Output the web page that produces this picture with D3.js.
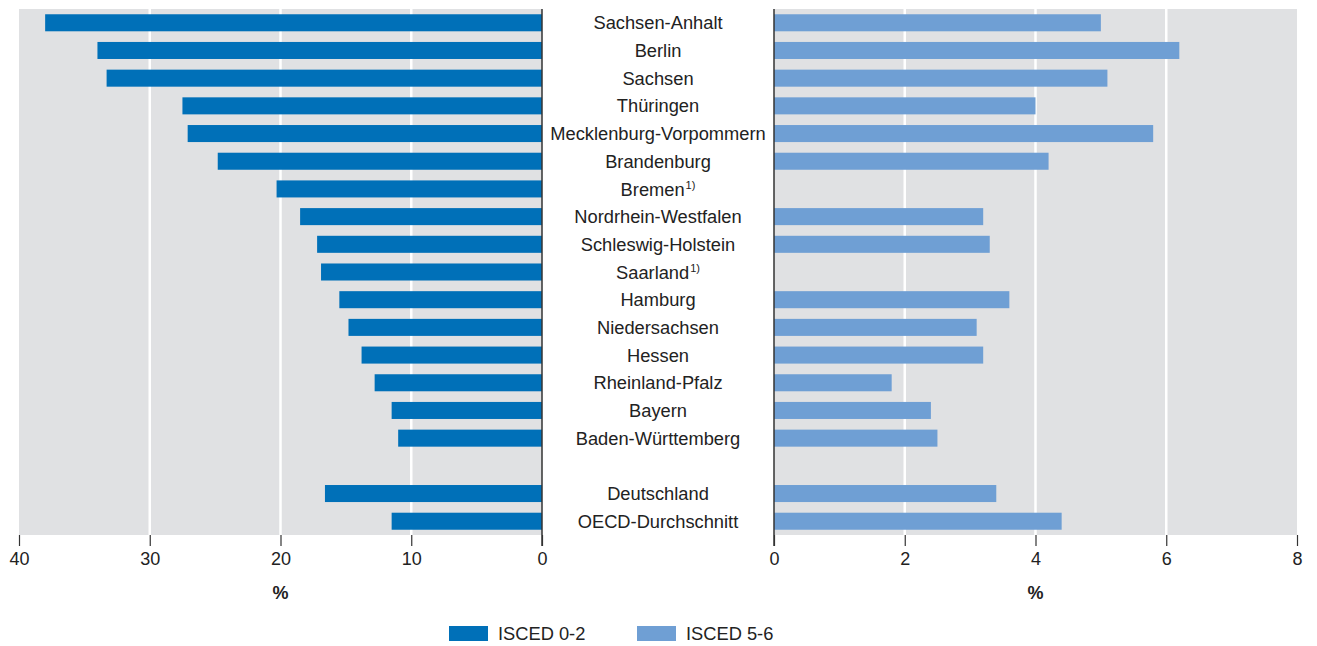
<!DOCTYPE html>
<html><head><meta charset="utf-8">
<script src="https://cdn.jsdelivr.net/npm/d3@7"></script>
<style>
body{margin:0;background:#fff;}
text{font-family:"Liberation Sans",Arial,sans-serif;fill:#222;}
</style></head>
<body><svg id="c" width="1317" height="646"></svg>
<script>
const categories = ["Sachsen-Anhalt","Berlin","Sachsen","Thüringen","Mecklenburg-Vorpommern","Brandenburg","Bremen","Nordrhein-Westfalen","Schleswig-Holstein","Saarland","Hamburg","Niedersachsen","Hessen","Rheinland-Pfalz","Bayern","Baden-Württemberg","","Deutschland","OECD-Durchschnitt"];
const footnotes = [false,false,false,false,false,false,true,false,false,true,false,false,false,false,false,false,false,false,false];
const isced02 = [38.0,34.0,33.3,27.5,27.1,24.8,20.3,18.5,17.2,16.9,15.5,14.8,13.8,12.8,11.5,11.0,null,16.6,11.5];
const isced56 = [5.0,6.2,5.1,4.0,5.8,4.2,null,3.2,3.3,null,3.6,3.1,3.2,1.8,2.4,2.5,null,3.4,4.4];
const leftTicks = [40,30,20,10,0];
const rightTicks = [0,2,4,6,8];
const seriesNames = ["ISCED 0-2","ISCED 5-6"];
const colors = ["#0070b8","#6f9fd4"];

const svg = d3.select("#c");
const plotTop = 9, plotBottom = 535;
const y = d3.scaleBand().domain(d3.range(categories.length)).range([plotTop,plotBottom]).paddingInner(0.385).paddingOuter(0.19);
const xL = d3.scaleLinear().domain([40,0]).range([19,542]);
const xR = d3.scaleLinear().domain([0,8]).range([774,1297]);

function panel(x, ticks, data, color){
  const [x0,x1] = x.range().slice().sort((a,b)=>a-b);
  svg.append("rect").attr("x",x0).attr("y",plotTop).attr("width",x1-x0).attr("height",plotBottom-plotTop).attr("fill","#e0e1e3");
  svg.append("g").selectAll("line").data(ticks.filter(t=>x(t)>x0+1 && x(t)<x1-1)).join("line")
    .attr("x1",d=>x(d)).attr("x2",d=>x(d)).attr("y1",plotTop).attr("y2",plotBottom)
    .attr("stroke","#fff").attr("stroke-width",2.5);
  svg.append("g").selectAll("rect").data(data.map((v,i)=>({v,i})).filter(d=>d.v!=null)).join("rect")
    .attr("x",d=>Math.min(x(0),x(d.v))).attr("width",d=>Math.abs(x(d.v)-x(0)))
    .attr("y",d=>y(d.i)).attr("height",y.bandwidth()).attr("fill",color);
  const ax = svg.append("g").attr("transform",`translate(0,${plotBottom})`)
    .call(d3.axisBottom(x).tickValues(ticks).tickSize(11).tickPadding(6).tickFormat(d3.format("d")));
  ax.select(".domain").remove();
  ax.selectAll(".tick line").attr("stroke","#333").attr("stroke-width",1.2);
  ax.selectAll(".tick text").attr("font-size",18).attr("fill","#222").attr("font-family","Liberation Sans, Arial, sans-serif");
  svg.append("line").attr("x1",x(0)).attr("x2",x(0)).attr("y1",plotTop).attr("y2",plotBottom+11).attr("stroke","#333").attr("stroke-width",1.5);
  svg.append("text").attr("x",(x0+x1)/2).attr("y",599).attr("text-anchor","middle").attr("font-size",18).attr("font-weight","bold").text("%");
}
panel(xL, leftTicks, isced02, colors[0]);
panel(xR, rightTicks, isced56, colors[1]);

const lab = svg.append("g").selectAll("text").data(categories.map((c,i)=>({c,i}))).join("text")
  .attr("x",658).attr("y",d=>y(d.i)+y.bandwidth()/2).attr("dy","0.36em").attr("text-anchor","middle").attr("font-size",18.3);
lab.append("tspan").text(d=>d.c);
lab.filter(d=>footnotes[d.i]).append("tspan").attr("font-size",11).attr("dy","-0.6em").attr("dx",1).text("1)");

const leg = svg.append("g").selectAll("g").data(seriesNames).join("g")
  .attr("transform",(d,i)=>`translate(${[449,637][i]},626)`);
leg.append("rect").attr("width",39).attr("height",15).attr("fill",(d,i)=>colors[i]);
leg.append("text").attr("x",49).attr("y",7.5).attr("dy","0.36em").attr("font-size",18.3).text(d=>d);
</script></body></html>
